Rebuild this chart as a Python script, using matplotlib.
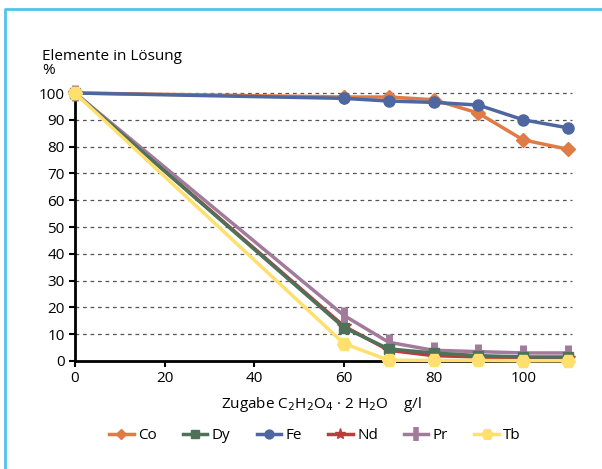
import matplotlib
matplotlib.use("Agg")
import matplotlib.pyplot as plt
from matplotlib.lines import Line2D

plt.rcParams['font.family'] = ['Open Sans', 'DejaVu Sans']

x = [0, 60, 70, 80, 90, 100, 110]
co = [100, 98.5, 98.5, 97.5, 92.5, 82.5, 79]
dy = [100, 12.5, 4.5, 3, 2, 1.5, 1.5]
fe = [100, 98, 97, 96.5, 95.5, 90, 87]
nd = [100, 13, 4, 2, 1.5, 1, 1]
pr = [100, 17, 7, 4, 3.5, 3, 3]
tb = [100, 6.5, 0.3, 0.2, 0.2, 0.1, 0.1]

# name, values, colour, marker, size, zorder
series = [
    ("Co", co, "#E07B45", "D", 7, 3),
    ("Dy", dy, "#4E7159", "s", 7, 5),
    ("Fe", fe, "#4F67A0", "o", 8, 4),
    ("Nd", nd, "#C0393B", "*", 10, 2.5),
    ("Pr", pr, "#A27B9C", "|", 12, 2.6),
    ("Tb", tb, "#FFDF6E", "H", 10, 6),
]

fig = plt.figure(figsize=(6.02, 4.69), dpi=100)
# light blue frame, only top and left visible
fig.add_artist(Line2D([5 / 602, 5 / 602, 1], [0, 1 - 9 / 469, 1 - 9 / 469],
                      transform=fig.transFigure, color="#4FC3EE", linewidth=2))
ax = fig.add_axes([75 / 602, 1 - 361 / 469, 493 / 602, 268 / 469])

for name, vals, col, mk, ms, z in series:
    mew = 5 if mk == "|" else 1
    ax.plot(x, vals, color=col, marker=mk, markersize=ms, markeredgewidth=mew,
            markeredgecolor=col, linewidth=2.5, label=name, clip_on=False, zorder=z)

ax.set_xlim(0, 110)
ax.set_ylim(0, 100)
ax.set_xticks([0, 20, 40, 60, 80, 100])
ax.set_yticks(range(0, 101, 10))
for yv in range(10, 101, 10):
    ax.plot([0, 111], [yv, yv], color="#555555", linestyle=(0, (3, 3)), linewidth=0.9,
            zorder=0, clip_on=False)
ax.spines["top"].set_visible(False)
ax.spines["right"].set_visible(False)
ax.spines["left"].set_linewidth(2)
ax.spines["bottom"].set_linewidth(2)
ax.tick_params(labelsize=11, width=1.5, length=4)

fig.text(42 / 602, 1 - 57 / 469, "Elemente in Lösung", fontsize=11, va="center")
fig.text(42 / 602, 1 - 71 / 469, "%", fontsize=11, va="center")
ax.set_xlabel("Zugabe C$_2$H$_2$O$_4$ · 2 H$_2$O    g/l", fontsize=11, labelpad=6)

handles = [Line2D([], [], color=c, marker=m, markersize=s * 0.8,
                  markeredgewidth=(4 if m == "|" else 1), linewidth=2.5)
           for _, _, c, m, s, _ in series]
ax.legend(handles, [s[0] for s in series], loc="upper center", bbox_to_anchor=(0.487, -0.2),
          ncol=6, frameon=False, fontsize=11, handlelength=1.6, columnspacing=1.7,
          handletextpad=0.3)

fig.savefig("out.png", dpi=100)
